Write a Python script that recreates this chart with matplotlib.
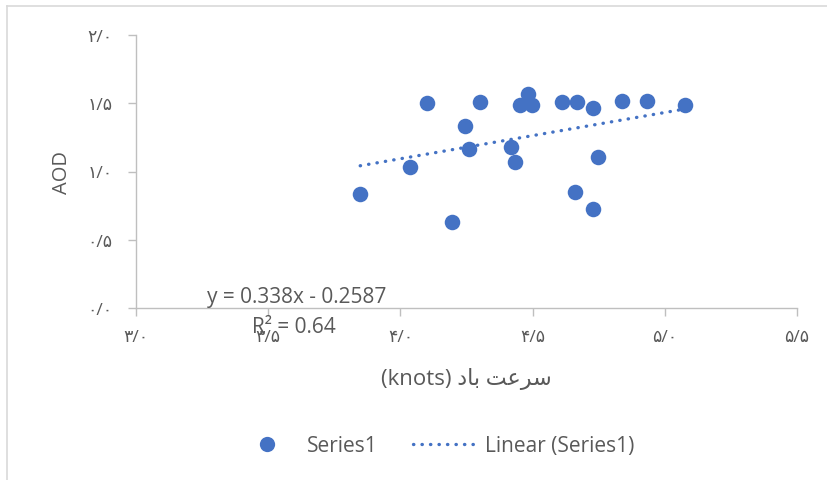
import numpy as np
import matplotlib.pyplot as plt
from matplotlib.lines import Line2D
plt.switch_backend('Agg')

plt.rcParams['font.family'] = ['Open Sans', 'DejaVu Sans']

# wind speed (knots) vs AOD
wind = [4.102, 4.302, 4.484, 4.452, 4.499, 4.612, 4.668, 4.730, 4.838, 4.934, 5.075,
        4.246, 4.259, 4.420, 4.432, 4.748, 4.037, 3.848, 4.662, 4.730, 4.195]
aod = [1.501, 1.506, 1.567, 1.486, 1.486, 1.506, 1.506, 1.462, 1.518, 1.515, 1.488,
       1.335, 1.167, 1.177, 1.069, 1.104, 1.033, 0.838, 0.848, 0.728, 0.633]

slope = 0.338
intercept = -0.2587
r2 = 0.64

xticks = [3.0, 3.5, 4.0, 4.5, 5.0, 5.5]
yticks = [0.0, 0.5, 1.0, 1.5, 2.0]

# persian digits, slash as decimal separator like the original
fa_digits = str.maketrans('0123456789.', '۰۱۲۳۴۵۶۷۸۹/')


def fa(v):
    return f'{v:.1f}'.translate(fa_digits)


# axis title, written in visual order (presentation forms) since matplotlib does no shaping
xlabel = '(knots) \uFEA9\uFE8E\uFE91 \uFE96\uFECB\uFEAE\uFEB3'

blue = '#4472C4'
grey = '#595959'
axis_col = '#BFBFBF'
dots = (0, (0.1, 2.45))

fig = plt.figure(figsize=(8.28, 4.81), dpi=100)
ax = fig.add_axes([136 / 828, 1 - 309.3 / 481, (797 - 136) / 828, (309.3 - 35.7) / 481])

ax.scatter(wind, aod, s=125, color=blue, zorder=3, linewidths=0)

xs = np.array([min(wind), max(wind)])
ax.plot(xs, slope * xs + intercept, color=blue, lw=2.4,
        linestyle=dots, dash_capstyle='round', zorder=2)

ax.set_xlim(3.0, 5.5)
ax.set_ylim(0.0, 2.0)
ax.set_xticks(xticks)
ax.set_xticklabels([fa(v) for v in xticks])
ax.set_yticks(yticks)
ax.set_yticklabels([fa(v) for v in yticks])

for s in ['top', 'right']:
    ax.spines[s].set_visible(False)
for s in ['left', 'bottom']:
    ax.spines[s].set_color(axis_col)
    ax.spines[s].set_linewidth(1.0)
ax.tick_params(colors=axis_col, labelcolor=grey, labelsize=12.5, length=6, width=1.0)
ax.tick_params(axis='x', pad=9)
ax.tick_params(axis='y', pad=11)

ax.set_ylabel('AOD', fontsize=14.5, color=grey, labelpad=11)
ax.set_xlabel(xlabel, fontsize=16, color=grey, labelpad=16)

ax.text(3.27, 0.01, f'y = {slope}x - {abs(intercept)}', fontsize=15, color=grey,
        ha='left', va='bottom')
ax.text(3.44, -0.13, f'R² = {r2}', fontsize=15, color=grey, ha='left', va='center')

handles = [
    Line2D([], [], marker='o', linestyle='none', color=blue, markersize=11, markeredgewidth=0),
    Line2D([], [], color=blue, lw=2.4, linestyle=dots, dash_capstyle='round'),
]
fig.legend(handles, ['Series1', 'Linear (Series1)'], loc='center', bbox_to_anchor=(435 / 828, 1 - 447 / 481),
           ncol=2, frameon=False, fontsize=15, labelcolor=grey, handlelength=3.0,
           columnspacing=1.7, handletextpad=0.45)

# chart border (top and left edges visible)
fig.add_artist(Line2D([7 / 828, 1.0], [1 - 7 / 481, 1 - 7 / 481], color='#D9D9D9', lw=1.2))
fig.add_artist(Line2D([7 / 828, 7 / 828], [0.0, 1 - 7 / 481], color='#D9D9D9', lw=1.2))

fig.savefig('out.png', dpi=100)
plt.close(fig)
